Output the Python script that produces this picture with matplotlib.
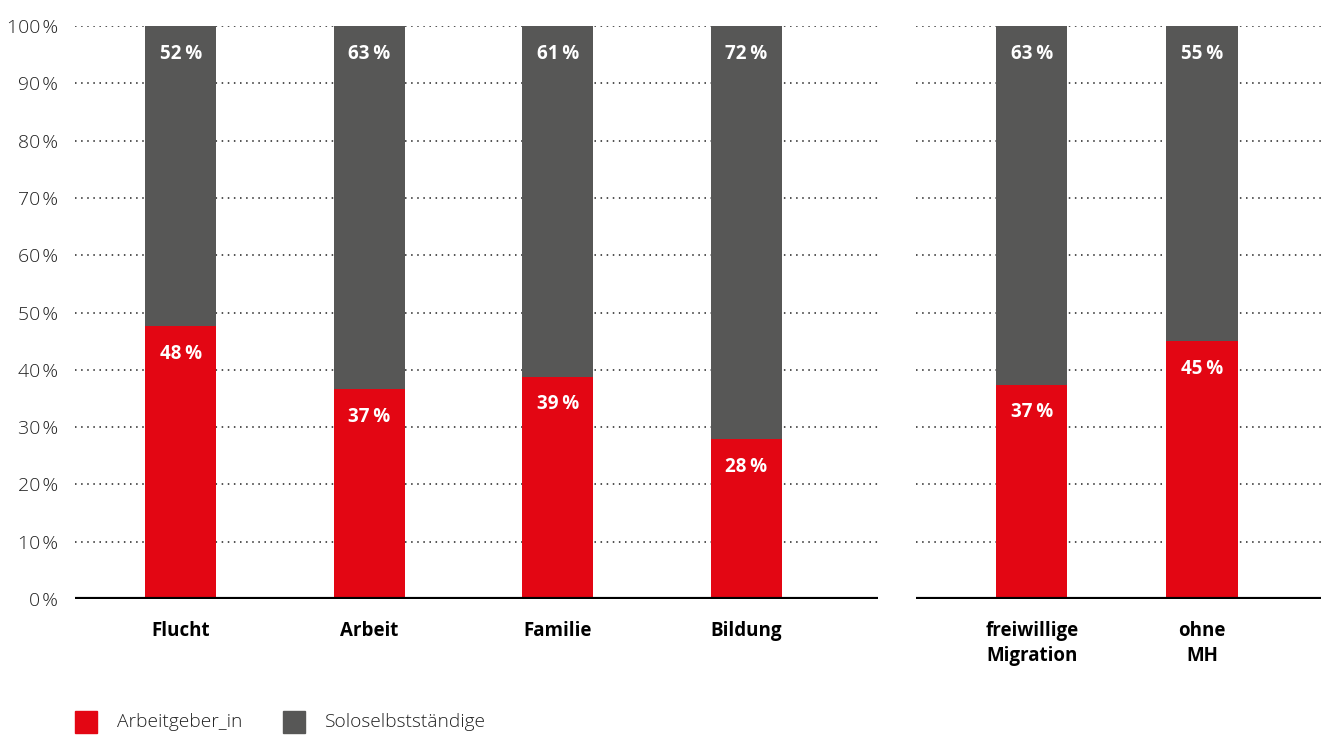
import matplotlib.pyplot as plt
from matplotlib.patches import Rectangle

plt.rcParams['font.family'] = ['Open Sans', 'DejaVu Sans']

RED = "#e30613"
GREY = "#575756"

# data
left_cats = ["Flucht", "Arbeit", "Familie", "Bildung"]
left_arbeitgeber = [47.6, 36.6, 38.8, 27.9]
left_solo = [52.4, 63.4, 61.2, 72.1]

right_cats = ["freiwillige\nMigration", "ohne\nMH"]
right_arbeitgeber = [37.4, 45.0]
right_solo = [62.6, 55.0]

yticks = [0, 10, 20, 30, 40, 50, 60, 70, 80, 90, 100]
legend_labels = ["Arbeitgeber_in", "Soloselbstständige"]


def pct(v):
    return f"{round(v)}\u2009%"


def draw_panel(ax, cats, red, grey, width, show_y):
    x = list(range(len(cats)))
    ax.bar(x, red, width=width, color=RED, zorder=3)
    ax.bar(x, grey, width=width, bottom=red, color=GREY, zorder=3)
    for xi, r, g in zip(x, red, grey):
        ax.text(xi, r - 4.8, pct(r), ha="center", va="center", color="white",
                fontsize=13.5, fontweight="bold", zorder=4)
        ax.text(xi, r + g - 4.8, pct(g), ha="center", va="center", color="white",
                fontsize=13.5, fontweight="bold", zorder=4)
    ax.set_ylim(0, 100)
    ax.set_yticks(yticks)
    for t in yticks[1:]:
        ax.axhline(t, color="#222222", lw=1.1, ls=(0, (1, 3)), zorder=1)
    ax.axhline(0, color="black", lw=3, zorder=5)
    ax.set_xticks(x)
    ax.set_xticklabels(cats, fontsize=13.5, fontweight="bold", linespacing=1.3)
    ax.tick_params(axis="x", length=0, pad=16)
    ax.tick_params(axis="y", length=0, pad=12, labelsize=14, labelcolor="#222222")
    if show_y:
        ax.set_yticklabels([f"{t}\u200a%" for t in yticks], fontweight="light")
    else:
        ax.set_yticklabels([])
    for s in ax.spines.values():
        s.set_visible(False)


fig = plt.figure(figsize=(13.27, 7.35), dpi=100)
ax1 = fig.add_axes([75 / 1327, 1 - 599 / 735, (878 - 75) / 1327, (599 - 26) / 735])
ax2 = fig.add_axes([916 / 1327, 1 - 599 / 735, (1321 - 916) / 1327, (599 - 26) / 735])

draw_panel(ax1, left_cats, left_arbeitgeber, left_solo, 0.377, True)
ax1.set_xlim(-0.562, 3.70)
draw_panel(ax2, right_cats, right_arbeitgeber, right_solo, 0.418, False)
ax2.set_xlim(-0.682, 1.70)

# legend
for (x0, col), lab, tx in zip([(75, RED), (283, GREY)], legend_labels, [117, 325]):
    fig.patches.append(Rectangle((x0 / 1327, 1 - 733 / 735), 22 / 1327, 22 / 735,
                                 transform=fig.transFigure, color=col))
    fig.text(tx / 1327, 1 - 722 / 735, lab, fontsize=13.8, va="center", color="#222222",
             fontweight="light")

fig.savefig("out.png", dpi=100)
